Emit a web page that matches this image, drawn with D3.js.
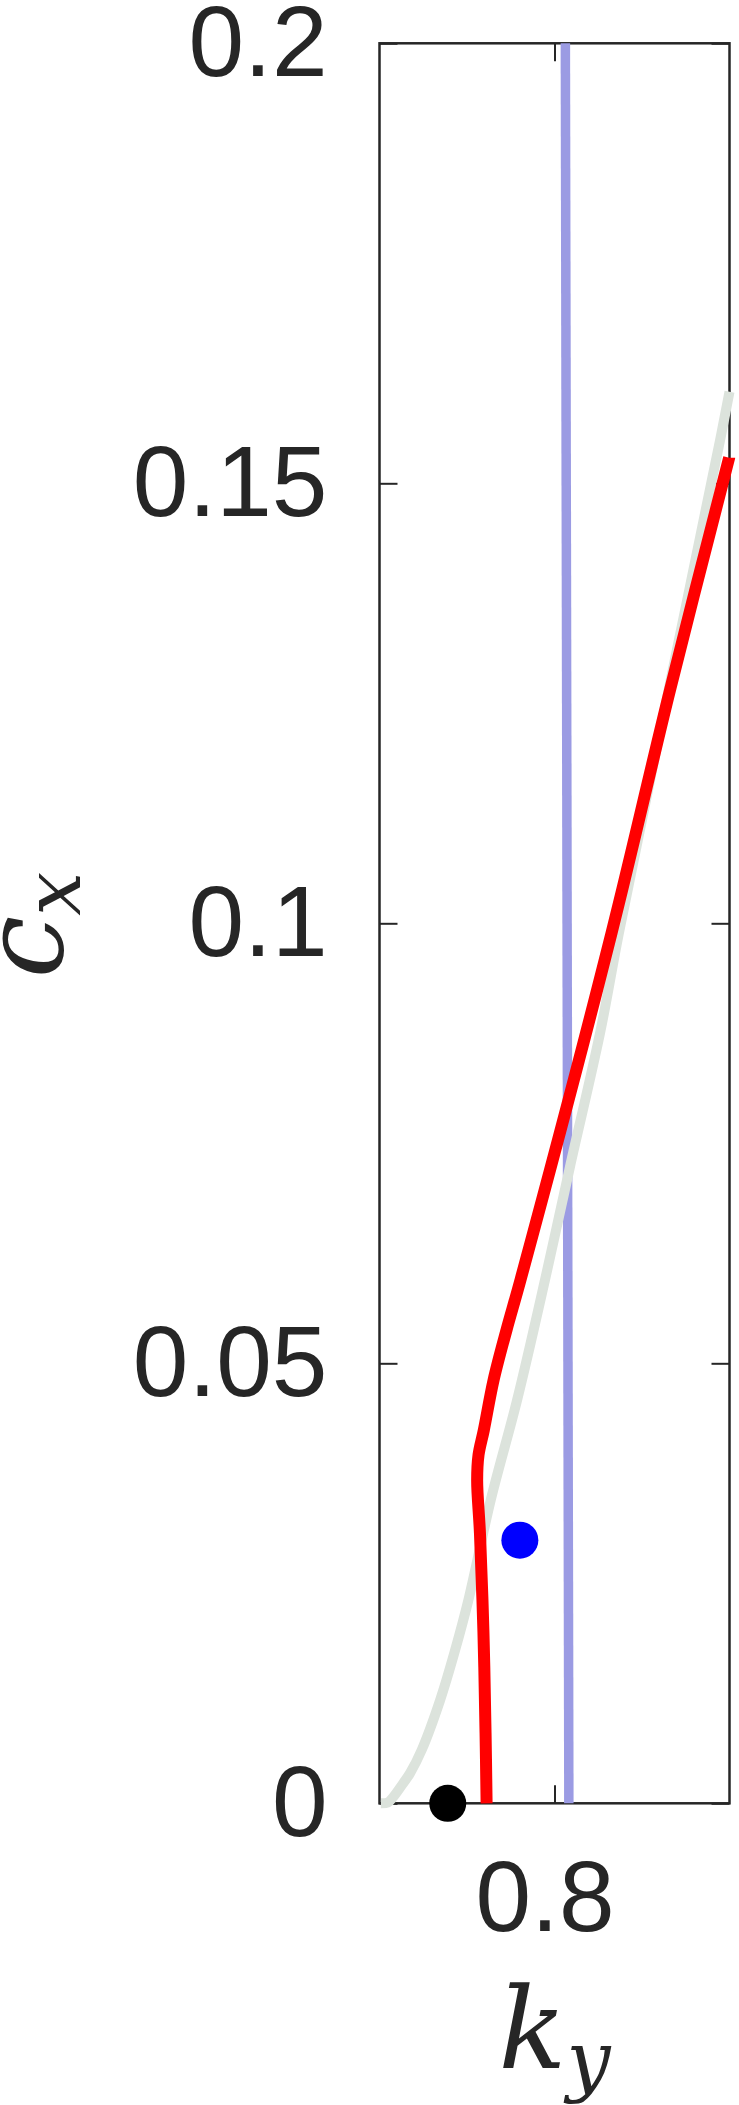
<!DOCTYPE html>
<html>
<head>
<meta charset="utf-8">
<script src="https://cdn.jsdelivr.net/npm/d3@7"></script>
<style>
  body { margin: 0; background: #fff; }
  svg { display: block; }
</style>
</head>
<body>
<svg id="chart" width="739" height="2105"></svg>
<script>
// ---- data ----
var xTicks = [0.8];
var yTicks = [0, 0.05, 0.1, 0.15, 0.2];
var yTickLabels = ['0', '0.05', '0.1', '0.15', '0.2'];

// grey curve
var greyKy = [0.7504, 0.7524, 0.7539, 0.7568, 0.7587, 0.7621, 0.7673, 0.7716, 0.7754, 0.7818, 0.7893, 0.7973, 0.8044, 0.8130, 0.8184, 0.8326, 0.8473, 0.85];
var greyCx = [0, 0.0001, 0.0007, 0.0023, 0.0034, 0.0061, 0.0117, 0.0174, 0.0231, 0.0345, 0.0458, 0.0595, 0.0723, 0.0875, 0.0989, 0.1265, 0.1549, 0.1604];

// red curve
var redKy = [0.7806, 0.7803, 0.7797, 0.7787, 0.7779, 0.7783, 0.7798, 0.7826, 0.7863, 0.7903, 0.8163, 0.8330, 0.8499];
var redCx = [0, 0.0080, 0.0194, 0.0307, 0.0367, 0.0396, 0.0424, 0.0481, 0.0538, 0.0595, 0.0989, 0.1265, 0.1529];

// light blue vertical line
var blueKy = [0.8041, 0.8031];
var blueCx = [0, 0.2];

// markers
var dotKy = [0.7695, 0.7901];
var dotCx = [0, 0.0299];
var dotColors = ['#000000', '#0000ff'];

// ---- layout ----
var svg = d3.select('#chart');
var box = {l: 379.5, r: 729.5, t: 43.3, b: 1803.3};
var axisColor = '#262626';
var tickFont = '"Liberation Sans", Arial, Helvetica, sans-serif';
var mathFont = '"DejaVu Serif", "Liberation Serif", serif';

var x = d3.scaleLinear().domain([0.75, 0.85]).range([box.l, box.r]);
var y = d3.scaleLinear().domain([0, 0.2]).range([box.b, box.t]);

// axes (ticks point inward)
var gLeft = svg.append('g').attr('transform', 'translate(' + box.l + ',0)')
    .call(d3.axisLeft(y).tickValues(yTicks).tickSize(-18).tickPadding(52)
        .tickFormat(function(d, i) { return yTickLabels[i]; }));
var gRight = svg.append('g').attr('transform', 'translate(' + box.r + ',0)')
    .call(d3.axisRight(y).tickValues(yTicks).tickSize(-18).tickFormat(''));
var gBottom = svg.append('g').attr('transform', 'translate(0,' + box.b + ')')
    .call(d3.axisBottom(x).tickValues(xTicks).tickSize(-18).tickPadding(57)
        .tickFormat(d3.format('.1f')));
var gTop = svg.append('g').attr('transform', 'translate(0,' + box.t + ')')
    .call(d3.axisTop(x).tickValues(xTicks).tickSize(-18).tickFormat(''));

[gLeft, gRight, gBottom, gTop].forEach(function(g) {
    g.select('.domain').remove();
    g.selectAll('line').attr('stroke', axisColor).attr('stroke-width', 2);
    g.selectAll('text')
        .attr('fill', axisColor)
        .style('font-family', tickFont)
        .style('font-size', '100px');
});
gBottom.selectAll('text').attr('dx', -10);

svg.append('rect')
    .attr('x', box.l).attr('y', box.t)
    .attr('width', box.r - box.l).attr('height', box.b - box.t)
    .attr('fill', 'none')
    .attr('stroke', axisColor)
    .attr('stroke-width', 2.5);

// lines
function series(xs, ys) {
    return xs.map(function(d, i) { return [d, ys[i]]; });
}
var line = d3.line()
    .x(function(d) { return x(d[0]); })
    .y(function(d) { return y(d[1]); })
    .curve(d3.curveCatmullRom.alpha(0.5));

svg.append('path')
    .datum(series(blueKy, blueCx))
    .attr('d', line)
    .attr('fill', 'none')
    .attr('stroke', '#9b9be3')
    .attr('stroke-width', 9.5);

svg.append('path')
    .datum(series(greyKy, greyCx))
    .attr('d', line)
    .attr('fill', 'none')
    .attr('stroke', '#dce3dc')
    .attr('stroke-width', 10);

svg.append('path')
    .datum(series(redKy, redCx))
    .attr('d', line)
    .attr('fill', 'none')
    .attr('stroke', '#ff0000')
    .attr('stroke-width', 12);

svg.selectAll('.dot')
    .data(dotKy)
    .enter().append('circle')
    .attr('class', 'dot')
    .attr('cx', function(d) { return x(d); })
    .attr('cy', function(d, i) { return y(dotCx[i]); })
    .attr('r', 18.5)
    .attr('fill', function(d, i) { return dotColors[i]; });

// axis labels
var xLab = svg.append('text')
    .attr('x', x(0.8))
    .attr('y', 2068)
    .attr('text-anchor', 'middle')
    .attr('fill', axisColor)
    .style('font-family', mathFont)
    .style('font-style', 'italic');
xLab.append('tspan').style('font-size', '112px').text('k');
xLab.append('tspan').style('font-size', '78px').attr('dy', 19).text('y');

var yLab = svg.append('text')
    .attr('transform', 'translate(62,925) rotate(-90)')
    .attr('text-anchor', 'middle')
    .attr('fill', axisColor)
    .style('font-family', mathFont)
    .style('font-style', 'italic');
yLab.append('tspan').style('font-size', '112px').text('c');
yLab.append('tspan').style('font-size', '78px').attr('dy', 18).text('x');
</script>
</body>
</html>
